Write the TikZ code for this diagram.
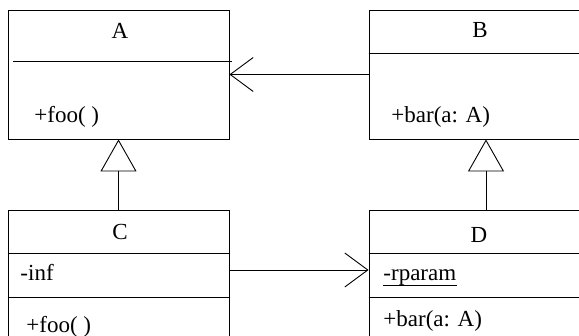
\documentclass[tikz,border=0pt]{standalone}
\usepackage{fontspec}
\setmainfont{Liberation Serif}
\usetikzlibrary{arrows.meta}

\begin{document}
\begin{tikzpicture}[x=1pt,y=-1pt,
  line width=0.9pt,
  class box/.style={draw,rectangle,inner sep=0pt},
  label text/.style={inner sep=0pt,font=\fontsize{23}{27}\selectfont},
  assoc/.style={-{Straight Barb[length=23pt,width=34pt]}},
  inherit/.style={-{Triangle[open,length=32pt,width=36pt,fill=white]}}]

  \path[use as bounding box,clip] (0,0) rectangle (579,336);

  % classes
  \node[class box,minimum width=221pt,minimum height=129pt] (A) at (118.5,74.5) {};
  \node[class box,minimum width=234pt,minimum height=129pt] (B) at (486,74.5) {};
  \node[class box,minimum width=221pt,minimum height=140pt] (C) at (118.5,280) {};
  \node[class box,minimum width=234pt,minimum height=140pt] (D) at (486,280) {};

  % compartments
  \draw (13,61) -- (232,61);
  \draw (B.west |- 0,53) -- (B.east |- 0,53);
  \draw (C.west |- 0,253) -- (C.east |- 0,253);
  \draw (C.west |- 0,297) -- (C.east |- 0,297);
  \draw (D.west |- 0,253) -- (D.east |- 0,253);
  \draw (D.west |- 0,297) -- (D.east |- 0,297);

  \node[label text,anchor=base] (Aname) at (120,39) {A};
  \node[label text,anchor=base west] (Afoo) at (34,123) {+foo( )};
  \node[label text,anchor=base] (Bname) at (480,38) {B};
  \node[label text,anchor=base west] (Bbar) at (391,123) {+bar(a: A)};
  \node[label text,anchor=base] (Cname) at (120,240) {C};
  \node[label text,anchor=base west] (Cinf) at (20,281) {-inf};
  \node[label text,anchor=base west] (Cfoo) at (26,333) {+foo( )};
  \node[label text,anchor=base] (Dname) at (479,243) {D};
  \node[label text,anchor=base west] (Dparam) at (383,281) {-rparam};
  \draw[line width=0.8pt] ([yshift=1pt]Dparam.south west) -- ([yshift=1pt]Dparam.south east);
  \node[label text,anchor=base west] (Dbar) at (383,327) {+bar(a: A)};

  % relations
  \coordinate (link) at (0,270);
  \draw[assoc] (B.west) -- (A.east);
  \draw[assoc] (C.east |- link) -- (D.west |- link);
  \draw[inherit] (C.north) -- (A.south);
  \draw[inherit] (D.north) -- (B.south);
\end{tikzpicture}
\end{document}
